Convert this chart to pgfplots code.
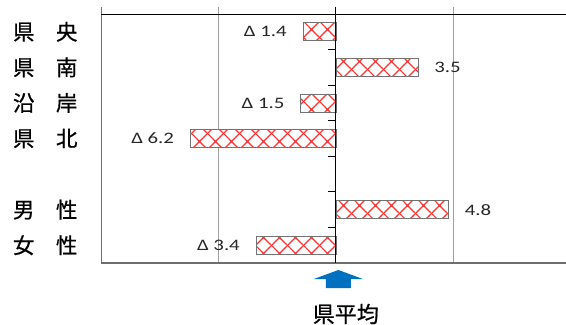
\documentclass[border=0pt]{standalone}
\usepackage{fontspec}
\setmainfont{Carlito}
\newfontfamily\cjk[FakeBold=0.7]{Noto Sans CJK JP}
\newfontfamily\lab[FakeStretch=1.3]{Carlito}
\usepackage{pgfplots}
\pgfplotsset{compat=1.18}
\usetikzlibrary{patterns.meta}

\definecolor{hatchred}{RGB}{255,50,50}
\definecolor{arrowblue}{RGB}{0,112,192}
\definecolor{gridgray}{RGB}{160,160,160}
\definecolor{edgegray}{RGB}{110,110,110}

% big diagonal cross hatch, like the office fill
\tikzdeclarepattern{
  name=bigcross,
  type=uncolored,
  bottom left={(0pt,0pt)},
  top right={(16pt,16pt)},
  tile size={(16pt,16pt)},
  code={
    \draw[line width=1.3pt] (-1pt,-1pt) -- (17pt,17pt) (-1pt,17pt) -- (17pt,-1pt);
  }
}

\begin{document}
\begin{tikzpicture}[vlab/.style={font=\lab\fontsize{16}{17}\selectfont, inner sep=0pt, text=black!85}]
\begin{axis}[
  set layers,
  scale only axis,
  width=465pt, height=249pt,
  xmin=-10, xmax=9.8,
  ymin=-0.5, ymax=6.5,
  y dir=reverse,
  axis line style={draw=none},
  xtick=\empty,
  ytick={0,1,2,3,5,6},
  yticklabels={県　央,県　南,沿　岸,県　北,男　性,女　性},
  yticklabel style={font=\cjk\fontsize{21.5}{22}\selectfont, xshift=-20pt},
  major tick length=0pt,
  xbar, bar width=18pt,
  clip=false,
]
\begin{pgfonlayer}{axis background}
  \draw[edgegray, line width=1pt] (axis cs:-10,-0.5) ++(0pt,7pt) -- (axis cs:-10,6.5);
  \draw[gridgray, line width=1.3pt] (axis cs:-5,-0.5) ++(0pt,7pt) -- (axis cs:-5,6.5);
  \draw[gridgray, line width=1.3pt] (axis cs:5,-0.5) ++(0pt,7pt) -- (axis cs:5,6.5);
  \draw[black, line width=0.9pt] (axis cs:-10,-0.5) -- (axis cs:9.8,-0.5);
  \draw[edgegray, line width=1.4pt] (axis cs:-10,6.5) -- (axis cs:9.8,6.5);
\end{pgfonlayer}

\addplot[draw=gray!90!black, line width=0.7pt, fill=white,
  postaction={pattern=bigcross, pattern color=hatchred}]
  coordinates {
  (-1.4,0)
  (3.5,1)
  (-1.5,2)
  (-6.2,3)
  (4.8,5)
  (-3.4,6)
};

% value labels, 16pt off the bar ends
\node[vlab, anchor=east] at ([xshift=-16pt]axis cs:-1.4,0) {Δ 1.4};
\node[vlab, anchor=west] at ([xshift=16pt]axis cs:3.5,1) {3.5};
\node[vlab, anchor=east] at ([xshift=-16pt]axis cs:-1.5,2) {Δ 1.5};
\node[vlab, anchor=east] at ([xshift=-16pt]axis cs:-6.2,3) {Δ 6.2};
\node[vlab, anchor=west] at ([xshift=16pt]axis cs:4.8,5) {4.8};
\node[vlab, anchor=east] at ([xshift=-16pt]axis cs:-3.4,6) {Δ 3.4};

\begin{pgfonlayer}{axis foreground}
  \draw[black, line width=1.1pt] (axis cs:0,-0.5) ++(0pt,7pt) -- (axis cs:0,6.5);
  \pgfplotsinvokeforeach{0.5,1.5,2.5,3.5,4.5,5.5}{
    \draw[black, line width=0.8pt] (axis cs:0,#1) -- ++(-8pt,0pt);
  }
\end{pgfonlayer}

% the blue arrow and its caption under the zero line
\fill[arrowblue] (axis cs:0,6.5) ++(2.5pt,-7pt) -- ++(24.5pt,-9pt) -- ++(-12pt,0pt)
  -- ++(0pt,-9pt) -- ++(-25pt,0pt) -- ++(0pt,9pt) -- ++(-12pt,0pt) -- cycle;
\node[font=\cjk\fontsize{22}{22}\selectfont] at ([xshift=10pt,yshift=-51pt]axis cs:0,6.5) {県平均};

\coordinate (tl) at (axis cs:-10,-0.5);
\coordinate (br) at (axis cs:9.8,6.5);
\end{axis}
\pgfresetboundingbox
\path ([xshift=-101pt,yshift=14pt]tl) rectangle ([yshift=-61pt]br);
\end{tikzpicture}
\end{document}
